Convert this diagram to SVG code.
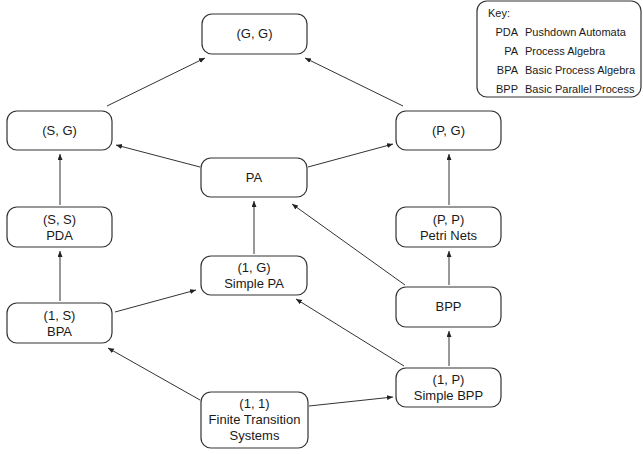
<svg xmlns="http://www.w3.org/2000/svg" width="643" height="454" viewBox="0 0 643 454">
<style>
.box{fill:#fff;stroke:#333;stroke-width:1.2}
.sh{fill:#999;opacity:0.5}
text{font-family:"Liberation Sans",Arial,sans-serif;font-size:13px;fill:#1a1a1a;text-anchor:middle}
.k{font-size:11px;text-anchor:start}
.kr{font-size:11px;text-anchor:end}
.e{stroke:#333;stroke-width:1;fill:none;marker-end:url(#ah)}
</style>
<defs>
<marker id="ah" markerUnits="userSpaceOnUse" markerWidth="7" markerHeight="6" refX="6" refY="2.5" orient="auto">
<path d="M0,0 L6,2.5 L0,5 z" fill="#222"/>
</marker>
</defs>
<g id="connectors">
<line class="e" x1="107" y1="106" x2="205" y2="58"/>
<line class="e" x1="403" y1="106" x2="305" y2="58"/>
<line class="e" x1="200" y1="167" x2="116" y2="145"/>
<line class="e" x1="308" y1="167" x2="393" y2="144"/>
<line class="e" x1="60" y1="205" x2="60" y2="154"/>
<line class="e" x1="449" y1="205" x2="449" y2="154"/>
<line class="e" x1="254" y1="254" x2="254" y2="201"/>
<line class="e" x1="405" y1="285" x2="292" y2="204"/>
<line class="e" x1="60" y1="301" x2="60" y2="251"/>
<line class="e" x1="449" y1="285" x2="449" y2="251"/>
<line class="e" x1="115" y1="312" x2="196" y2="290"/>
<line class="e" x1="404" y1="366" x2="296" y2="299"/>
<line class="e" x1="200" y1="400" x2="108" y2="348"/>
<line class="e" x1="309" y1="406" x2="393" y2="397"/>
<line class="e" x1="449" y1="366" x2="449" y2="331"/>
</g>
<g id="key">
<rect class="box" x="477" y="1" width="164" height="96" rx="10"/>
<text class="k" x="488" y="17">Key:</text>
<text class="kr" x="518" y="36">PDA</text><text class="k" x="525" y="36">Pushdown Automata</text>
<text class="kr" x="518" y="55">PA</text><text class="k" x="525" y="55">Process Algebra</text>
<text class="kr" x="518" y="74">BPA</text><text class="k" x="525" y="74">Basic Process Algebra</text>
<text class="kr" x="518" y="93">BPP</text><text class="k" x="525" y="93">Basic Parallel Process</text>
</g>
<g id="GG"><rect class="box" x="202" y="14" width="105" height="40" rx="10"/><text x="254.5" y="38">(G, G)</text></g>
<g id="SG"><rect class="box" x="7" y="111" width="105" height="39" rx="10"/><text x="59.5" y="135">(S, G)</text></g>
<g id="PG"><rect class="box" x="396" y="111" width="105" height="39" rx="10"/><text x="448.5" y="135">(P, G)</text></g>
<g id="PA"><rect class="box" x="201" y="158" width="106" height="39" rx="10"/><text x="254" y="182">PA</text></g>
<g id="SS"><rect class="box" x="7" y="207" width="105" height="40" rx="10"/><text x="59.5" y="224">(S, S)</text><text x="59.5" y="240">PDA</text></g>
<g id="PP"><rect class="box" x="396" y="207" width="105" height="40" rx="10"/><text x="448.5" y="224">(P, P)</text><text x="448.5" y="240">Petri Nets</text></g>
<g id="1G"><rect class="box" x="201" y="256" width="106" height="39" rx="10"/><text x="254" y="272">(1, G)</text><text x="254" y="288">Simple PA</text></g>
<g id="BPP"><rect class="box" x="396" y="287" width="105" height="40" rx="10"/><text x="448.5" y="311">BPP</text></g>
<g id="1S"><rect class="box" x="7" y="303" width="105" height="40" rx="10"/><text x="59.5" y="320">(1, S)</text><text x="59.5" y="336">BPA</text></g>
<g id="1P"><rect class="box" x="396" y="368" width="105" height="39" rx="10"/><text x="448.5" y="384">(1, P)</text><text x="448.5" y="400">Simple BPP</text></g>
<g id="11"><rect class="box" x="201" y="392" width="107" height="56" rx="10"/><text x="254.5" y="408">(1, 1)</text><text x="254.5" y="424">Finite Transition</text><text x="254.5" y="440">Systems</text></g>
</svg>
